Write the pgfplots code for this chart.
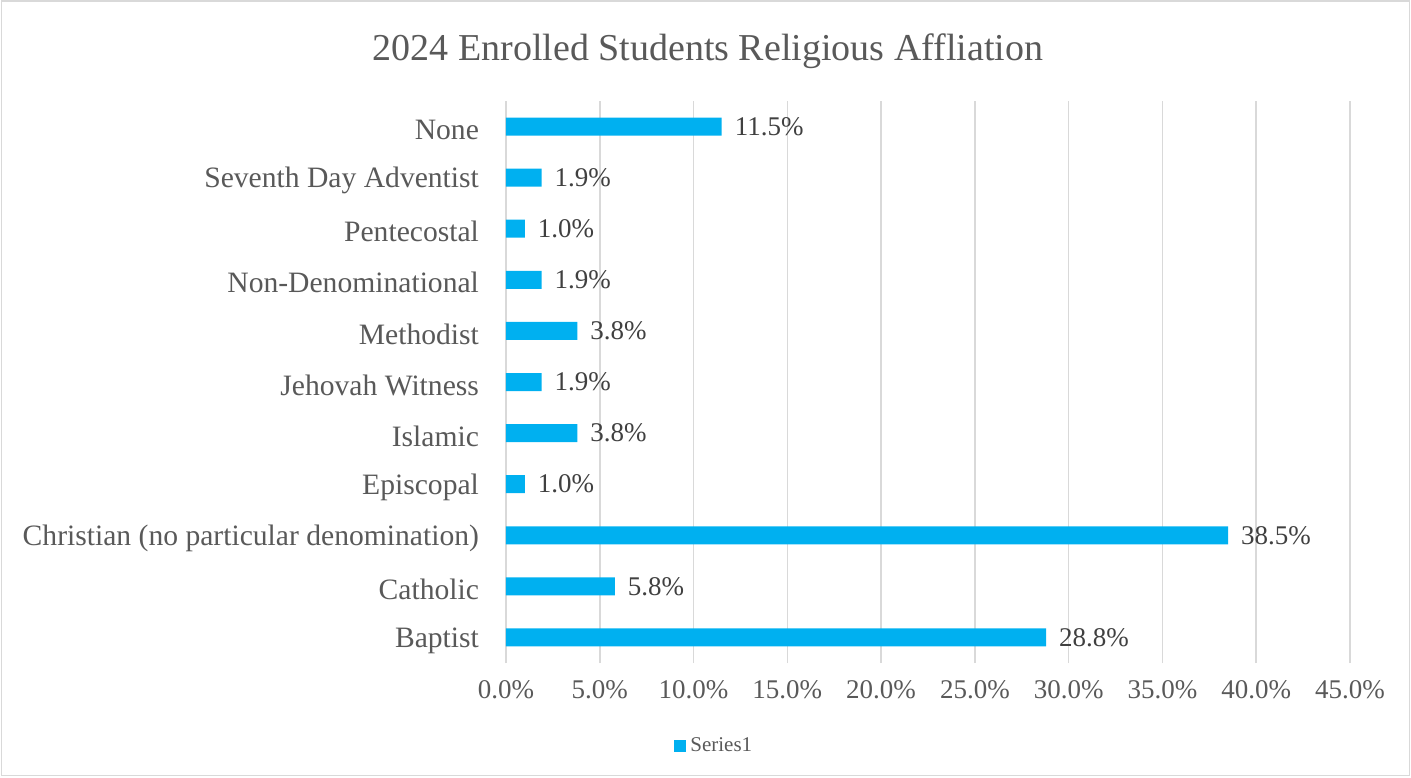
\documentclass[border=0pt]{standalone}
\usepackage{fontspec}
\setmainfont{Liberation Serif}
\usepackage{pgfplots}
\pgfplotsset{compat=1.18}
\definecolor{barblue}{HTML}{00B0F0}
\definecolor{txtgray}{HTML}{595959}
\definecolor{lblgray}{HTML}{404040}
\definecolor{gridgray}{HTML}{D9D9D9}

\begin{document}
\begin{tikzpicture}
% page frame (1 px = 0.5pt, origin at plot area's lower left)
\path[use as bounding box] (-253pt,-57pt) rectangle (452.5pt,331.5pt);
\draw[gridgray, line width=0.75pt] (-252.25pt,-56.25pt) rectangle (451.75pt,331pt);
\node[text=txtgray, font=\fontsize{19}{22}\selectfont] at (101pt,306pt) {2024 Enrolled Students Religious Affliation};

\begin{axis}[
  at={(0,0)}, anchor=south west,
  scale only axis, width=422pt, height=281pt,
  xbar, bar width=9pt,
  xmin=0, xmax=45, xtick={0,5,...,45},
  xticklabels={0.0\%,5.0\%,10.0\%,15.0\%,20.0\%,25.0\%,30.0\%,35.0\%,40.0\%,45.0\%},
  ymin=-0.5, ymax=10.5, ytick={0,...,10},
  yticklabels={Baptist,Catholic,Christian (no particular denomination),Episcopal,Islamic,Jehovah Witness,Methodist,Non-Denominational,Pentecostal,Seventh Day Adventist,None},
  axis line style={draw=none},
  major tick length=0pt,
  xmajorgrids, grid style={gridgray, line width=0.75pt},
  tick label style={font=\fontsize{13.5}{15}\selectfont, text=txtgray},
  yticklabel style={font=\fontsize{14.8}{16}\selectfont, xshift=-10pt, yshift=-1.5pt},
  xticklabel style={yshift=-5pt},
  /pgf/number format/assume math mode=true,
  legend style={at={(0.248,-0.148)}, anchor=center, draw=none, fill=none,
    font=\fontsize{10.5}{12}\selectfont, text=txtgray},
  legend image code/.code={\fill[barblue] (0pt,-3pt) rectangle (6pt,3pt);},
]
\addplot[fill=barblue, draw=none, point meta=x,
  nodes near coords={\pgfmathprintnumber[fixed,fixed zerofill,precision=1]{\pgfplotspointmeta}\%},
  nodes near coords style={anchor=west, xshift=3pt, text=lblgray, font=\fontsize{13.5}{15}\selectfont}]
  coordinates {(28.8,0) (5.8,1) (38.5,2) (1.0,3) (3.8,4) (1.9,5) (3.8,6) (1.9,7) (1.0,8) (1.9,9) (11.5,10)};
\legend{Series1}
\end{axis}
\end{tikzpicture}
\end{document}
